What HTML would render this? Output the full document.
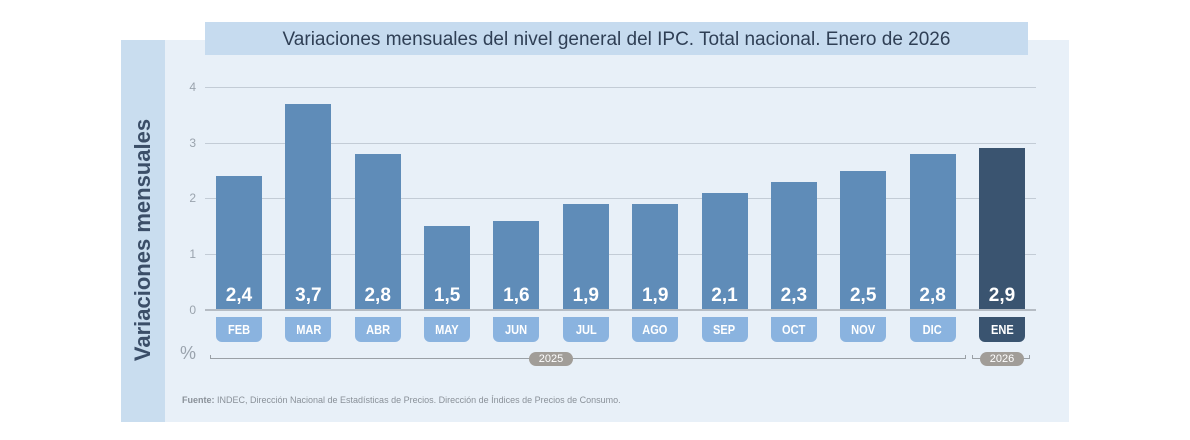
<!DOCTYPE html>
<html><head><meta charset="utf-8"><style>
body{margin:0;width:1190px;height:440px;background:#fff;position:relative;overflow:hidden;font-family:"Liberation Sans",sans-serif}
div{position:absolute;box-sizing:border-box}
.g{left:205px;width:831px;height:1px;background:#c3ccd6}
.t{left:182px;width:14px;text-align:right;font-size:12px;color:#9aa3ad}
.bar{width:46px;background:#5f8cb8}
.v{width:46px;text-align:center;color:#fff;font-weight:bold;font-size:19px;top:285px}
.m{top:317px;height:25px;width:46px;background:#8ab3df;border-radius:0 0 6px 6px;color:#fff;font-size:13px;font-weight:bold;text-align:center;line-height:25px}
.m span{display:inline-block;transform:scaleX(.85)}
.pill{height:14px;background:#a19d98;color:#fff;font-size:11px;line-height:14px;text-align:center;border-radius:7px}
</style></head><body>
<div style="left:121px;top:40px;width:44px;height:382px;background:#c9ddef"></div>
<div style="left:165px;top:40px;width:904px;height:382px;background:#e8f0f8"></div>
<div style="left:205px;top:22px;width:823px;height:33px;background:#c6dbef;text-align:center;font-size:19px;line-height:36px;color:#2f3f55">Variaciones mensuales del nivel general del IPC. Total nacional. Enero de 2026</div>
<div style="left:143px;top:240px;width:0;height:0"><div style="left:-130px;top:-14px;width:260px;height:28px;transform:rotate(-90deg);font-size:22px;font-weight:bold;color:#3b4e68;text-align:center;line-height:28px">Variaciones mensuales</div></div>
<div class="g" style="top:87px"></div><div class="t" style="top:80px">4</div>
<div class="g" style="top:143px"></div><div class="t" style="top:136px">3</div>
<div class="g" style="top:198px"></div><div class="t" style="top:191px">2</div>
<div class="g" style="top:254px"></div><div class="t" style="top:247px">1</div>
<div class="t" style="top:303px">0</div>
<div style="left:180px;top:343px;font-size:18px;color:#9aa3ad">%</div>
<div id="bars"></div>
<div style="left:205px;top:309px;width:831px;height:2px;background:#b5bcc4"></div>
<div style="left:210px;top:358px;width:756px;height:1px;background:#9aa0a6"></div>
<div style="left:210px;top:355px;width:1px;height:4px;background:#9aa0a6"></div>
<div style="left:965px;top:355px;width:1px;height:4px;background:#9aa0a6"></div>
<div class="pill" style="left:529px;top:352px;width:44px">2025</div>
<div style="left:972px;top:358px;width:58px;height:1px;background:#9aa0a6"></div>
<div style="left:972px;top:355px;width:1px;height:4px;background:#9aa0a6"></div>
<div style="left:1029px;top:355px;width:1px;height:4px;background:#9aa0a6"></div>
<div class="pill" style="left:980px;top:352px;width:44px">2026</div>
<div style="left:182px;top:395px;font-size:9px;color:#8a9199"><b>Fuente:</b> INDEC, Dirección Nacional de Estadísticas de Precios. Dirección de Índices de Precios de Consumo.</div>
<script>
var d=[["FEB",2.4],["MAR",3.7],["ABR",2.8],["MAY",1.5],["JUN",1.6],["JUL",1.9],["AGO",1.9],["SEP",2.1],["OCT",2.3],["NOV",2.5],["DIC",2.8],["ENE",2.9]];
var h="";
d.forEach(function(e,i){var c=239+i*69.36,l=(c-23).toFixed(1),hh=e[1]*55.75,last=i==11;
h+='<div class="bar" style="left:'+l+'px;top:'+(310-hh).toFixed(1)+'px;height:'+hh.toFixed(1)+'px;background:'+(last?'#3a5470':'#5f8cb8')+'"></div>';
h+='<div class="v" style="left:'+l+'px">'+String(e[1]).replace('.',',')+'</div>';
h+='<div class="m" style="left:'+l+'px;background:'+(last?'#3a5470':'#8ab3df')+'"><span>'+e[0]+'</span></div>';});
document.getElementById('bars').outerHTML=h;
</script>
</body></html>
